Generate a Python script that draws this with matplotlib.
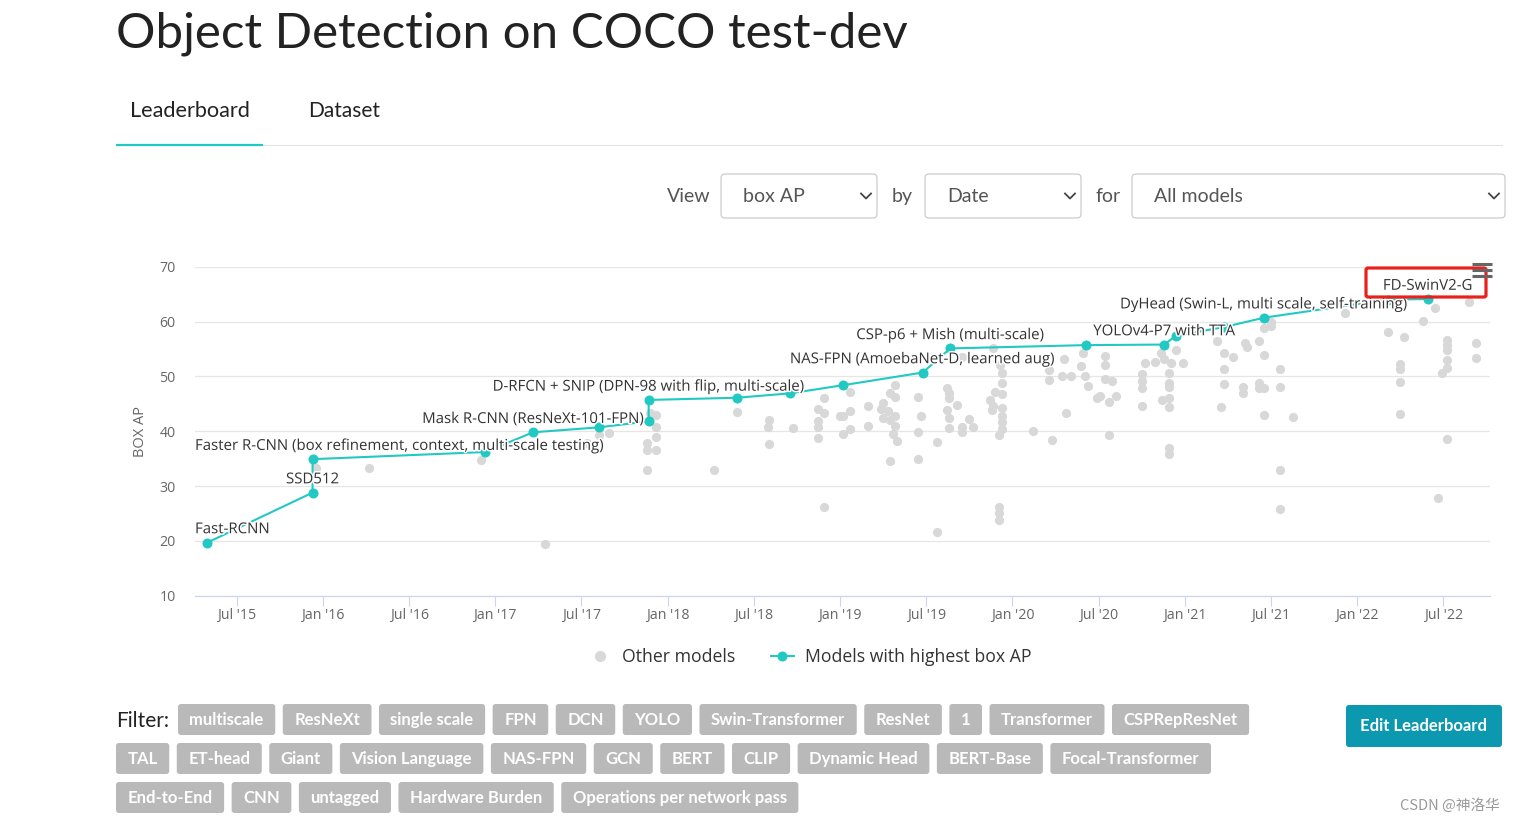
import matplotlib
matplotlib.use('Agg')
import matplotlib.pyplot as plt
from matplotlib.patches import FancyBboxPatch
from matplotlib.lines import Line2D
import matplotlib.patheffects as pe

plt.rcParams['font.family'] = ['Lato', 'DejaVu Sans']
CHART_FONT = ['Open Sans', 'DejaVu Sans']

# --- data: best model per date (decimal year, box AP) ---
best_date = [2015.33, 2015.94, 2015.94, 2016.94, 2017.22, 2017.60, 2017.89, 2017.89,
             2018.40, 2018.71, 2019.02, 2019.48, 2019.64, 2020.43, 2020.88, 2020.95,
             2021.23, 2021.46, 2022.18, 2022.41]
best_ap = [19.7, 28.8, 34.9, 36.2, 39.8, 40.7, 41.8, 45.7,
           46.1, 46.9, 48.4, 50.7, 55.1, 55.7, 55.8, 57.4,
           59.0, 60.7, 64.0, 64.1]
best_name = ['Fast-RCNN', 'SSD512',
             'Faster R-CNN (box refinement, context, multi-scale testing)', '',
             'Mask R-CNN (ResNeXt-101-FPN)', '', '',
             'D-RFCN + SNIP (DPN-98 with flip, multi-scale)', '', '', '',
             'NAS-FPN (AmoebaNet-D, learned aug)', 'CSP-p6 + Mish (multi-scale)', '',
             'YOLOv4-P7 with TTA', '', '',
             'DyHead (Swin-L, multi scale, self-training)', '', 'FD-SwinV2-G']

# --- data: other models ---
other_date = [2015.96, 2016.27, 2016.92, 2017.29, 2017.53, 2017.60, 2017.66, 2017.88,
              2017.88, 2017.93, 2017.93, 2017.93, 2017.93, 2017.90, 2017.88, 2018.27,
              2018.40, 2018.59, 2018.58, 2018.59, 2018.73, 2018.87, 2018.91, 2018.91,
              2018.87, 2018.87, 2018.87, 2018.91, 2019.00,
              2019.06, 2019.06, 2019.02, 2019.06, 2019.02, 2019.16, 2019.16, 2019.32,
              2019.29, 2019.32, 2019.25, 2019.24, 2019.28, 2019.32, 2019.25, 2019.29,
              2019.32, 2019.31, 2019.33, 2019.29, 2019.45, 2019.47, 2019.45, 2019.45,
              2019.56, 2019.56, 2019.62, 2019.63, 2019.63, 2019.68, 2019.62, 2019.63,
              2019.63, 2019.71, 2019.75, 2019.71, 2019.71, 2019.77, 2019.89, 2019.93,
              2019.94, 2019.94, 2019.90, 2019.94, 2019.87, 2019.89, 2019.94, 2019.88,
              2019.94, 2019.94, 2019.94, 2019.92, 2019.92, 2019.92, 2019.92,
              2020.12, 2020.23, 2020.21, 2020.21, 2020.29, 2020.34, 2020.30, 2020.31,
              2020.41, 2020.40, 2020.42, 2020.44, 2020.54, 2020.54, 2020.54, 2020.58,
              2020.49, 2020.51, 2020.56, 2020.60, 2020.56, 2020.75, 2020.75, 2020.75,
              2020.75, 2020.77, 2020.83, 2020.86, 2020.88, 2020.92, 2020.99, 2020.91,
              2020.91, 2020.91, 2020.91, 2020.87, 2020.91, 2020.91, 2020.91, 2020.95,
              2021.19, 2021.23, 2021.28, 2021.23, 2021.23, 2021.21, 2021.35, 2021.36,
              2021.34, 2021.34, 2021.43, 2021.46, 2021.43, 2021.43, 2021.46, 2021.46,
              2021.46, 2021.50, 2021.50, 2021.55, 2021.55, 2021.55, 2021.55, 2021.63,
              2021.93,
              2022.18, 2022.27, 2022.25, 2022.25, 2022.25, 2022.25, 2022.38, 2022.45,
              2022.52, 2022.52, 2022.52, 2022.52, 2022.52, 2022.49, 2022.52, 2022.47,
              2022.65, 2022.69, 2022.69]
other_ap = [33.2, 33.2, 34.7, 19.4, 37.8, 39.3, 39.6, 37.8,
            36.5, 36.6, 38.9, 40.8, 42.9, 43.4, 32.9, 32.9,
            43.5, 42.1, 40.7, 37.7, 40.5, 44.0, 46.0, 43.3,
            41.8, 40.7, 38.8, 26.1, 42.8,
            47.1, 43.7, 42.7, 40.4, 39.5, 44.6, 41.0, 48.4,
            47.0, 46.3, 45.1, 44.0, 43.6, 42.8, 42.4, 42.1,
            41.0, 39.5, 38.2, 34.6, 46.2, 42.8, 39.8, 34.9,
            38.1, 21.6, 47.8, 47.0, 46.0, 44.8, 43.9, 42.4,
            40.5, 53.5, 42.2, 40.7, 39.9, 40.7, 55.1, 52.1,
            50.7, 48.8, 47.2, 46.8, 45.7, 44.6, 44.3, 43.9,
            42.8, 41.6, 40.4, 39.3, 26.2, 25.1, 23.8,
            40.1, 38.4, 51.1, 49.4, 50.1, 50.1, 53.2, 43.4,
            54.2, 51.9, 50.1, 48.3, 53.7, 52.1, 49.5, 49.2,
            46.0, 46.5, 45.3, 46.4, 39.3, 50.5, 49.2, 47.8,
            44.6, 52.4, 52.7, 54.2, 53.1, 52.5, 52.4, 50.7,
            48.8, 48.0, 46.1, 45.6, 44.4, 36.9, 35.9, 54.8,
            56.4, 54.2, 53.5, 51.3, 48.6, 44.4, 56.1, 55.3,
            48.0, 46.9, 56.5, 53.9, 48.8, 47.8, 47.8, 43.0,
            58.8, 60.0, 59.1, 51.3, 48.0, 32.9, 25.9, 42.5,
            61.5,
            58.1, 57.1, 52.2, 51.4, 48.9, 43.2, 60.1, 62.4,
            56.7, 55.7, 54.8, 53.0, 51.5, 50.7, 38.6, 27.9,
            63.5, 56.1, 53.4]

xtick_pos = [2015.5, 2016.0, 2016.5, 2017.0, 2017.5, 2018.0, 2018.5, 2019.0,
             2019.5, 2020.0, 2020.5, 2021.0, 2021.5, 2022.0, 2022.5]
xtick_lab = ["Jul '15", "Jan '16", "Jul '16", "Jan '17", "Jul '17", "Jan '18", "Jul '18",
             "Jan '19", "Jul '19", "Jan '20", "Jul '20", "Jan '21", "Jul '21", "Jan '22",
             "Jul '22"]

tag_rows = [['multiscale', 'ResNeXt', 'single scale', 'FPN', 'DCN', 'YOLO', 'Swin-Transformer',
             'ResNet', '1', 'Transformer', 'CSPRepResNet'],
            ['TAL', 'ET-head', 'Giant', 'Vision Language', 'NAS-FPN', 'GCN', 'BERT', 'CLIP',
             'Dynamic Head', 'BERT-Base', 'Focal-Transformer'],
            ['End-to-End', 'CNN', 'untagged', 'Hardware Burden', 'Operations per network pass']]

TEAL = '#22c9c3'
GRAY = '#d8d8d8'
W, H = 1516, 822

fig = plt.figure(figsize=(W / 100, H / 100), dpi=100)
fig.patch.set_facecolor('white')

# --- chart ---
ax = fig.add_axes([195 / W, (H - 595.7) / H, 1295 / W, 329 / H])
ax.set_facecolor('none')
ax.scatter(other_date, other_ap, s=44, color=GRAY, linewidths=0, zorder=2)
ax.plot(best_date, best_ap, color=TEAL, lw=1.5, marker='o', ms=6.2, zorder=3)

ax.set_xlim(2015.258, 2022.771)
ax.set_ylim(10, 70)
ax.set_yticks(range(10, 71, 10))
ax.set_xticks(xtick_pos)
ax.set_xticklabels(xtick_lab)
ax.grid(axis='y', color='#e6e6e6', lw=0.9)
ax.set_axisbelow(True)
for s in ['top', 'right', 'left']:
    ax.spines[s].set_visible(False)
ax.spines['bottom'].set_color('#ccd6eb')
ax.spines['bottom'].set_linewidth(0.9)
ax.tick_params(axis='y', length=0, pad=14, labelsize=10.2, labelcolor='#666666',
               labelfontfamily='Open Sans')
ax.tick_params(axis='x', length=7.5, width=0.8, color='#ccd6eb', pad=1,
               labelsize=10.2, labelcolor='#666666', labelfontfamily='Open Sans')
ax.set_ylabel('BOX AP', fontsize=10.5, color='#666666', family=CHART_FONT)
ax.yaxis.set_label_coords(-0.036, 0.5)

outline = [pe.withStroke(linewidth=2.2, foreground='white')]
anns = []
for d, v, name in zip(best_date, best_ap, best_name):
    if name:
        a = ax.annotate(name, (d, v), xytext=(0, 9.2), textcoords='offset points',
                        ha='center', va='center', fontsize=10.8, color='#333333',
                        family=CHART_FONT, path_effects=outline, zorder=4)
        anns.append(a)

# keep data labels inside the plot area
renderer = fig.canvas.get_renderer()
ax_bb = ax.get_window_extent(renderer)
for a in anns:
    bb = a.get_window_extent(renderer)
    if bb.x0 < ax_bb.x0:
        a.xyann = ((ax_bb.x0 - bb.x0) * 72 / fig.dpi, 9.2)

legend_handles = [Line2D([], [], ls='none', marker='o', ms=7, color=GRAY),
                  Line2D([], [], color=TEAL, lw=1.5, marker='o', ms=6.2)]
fig.legend(legend_handles, ['Other models', 'Models with highest box AP'],
           loc='center', bbox_to_anchor=(810 / W, 1 - 657 / H), ncol=2, frameon=False,
           prop={'family': CHART_FONT, 'size': 12.7}, labelcolor='#333333',
           handlelength=1.3, handletextpad=0.6, columnspacing=2.0)

# --- page elements in pixel coordinates ---
page = fig.add_axes([0, 0, 1, 1], zorder=5)
page.set_xlim(0, W)
page.set_ylim(H, 0)
page.axis('off')

page.text(116, 48, 'Object Detection on COCO test-dev', fontsize=35.5, color='#222222',
          va='baseline')
page.text(130, 117, 'Leaderboard', fontsize=15.6, color='#222222', va='baseline')
page.text(308, 117, 'Dataset', fontsize=15, color='#222222', va='baseline')
page.plot([116, 263], [145.5, 145.5], color=TEAL, lw=1.6, solid_capstyle='butt')
page.plot([263, 1502], [145.5, 145.5], color='#e3e3e3', lw=0.8)

for label, x in [('View', 667), ('by', 892), ('for', 1095)]:
    page.text(x, 196, label, fontsize=14, color='#555555', va='center')
for x0, x1, txt in [(721, 877, 'box AP'), (925, 1081, 'Date'), (1132, 1505, 'All models')]:
    page.add_patch(FancyBboxPatch((x0, 174), x1 - x0, 44,
                                  boxstyle='round,pad=0,rounding_size=4',
                                  fc='white', ec='#cccccc', lw=0.9))
    page.text(x0 + 22, 196, txt, fontsize=14, color='#555555', va='center')
    page.plot([x1 - 16, x1 - 11, x1 - 6], [193.5, 198.5, 193.5], color='#444444', lw=1.3)

# export menu + highlight box
for yy in (264, 270, 276):
    page.plot([1472, 1492], [yy, yy], color='#666666', lw=2.2, solid_capstyle='butt')
page.add_patch(FancyBboxPatch((1366, 268), 120, 29, boxstyle='round,pad=0,rounding_size=2',
                              fc='none', ec='#e8211d', lw=2.3))

# filter tags
page.text(116, 727, 'Filter:', fontsize=15, color='#222222', va='baseline')
row_y = [704, 743, 782]
row_x = [178, 116, 116]
for names, y0, x in zip(tag_rows, row_y, row_x):
    for name in names:
        t = page.text(x + 11.5, y0 + 15.5, name, fontsize=12, color='white',
                      weight='bold', va='center', zorder=3)
        tw = t.get_window_extent(renderer).width
        page.add_patch(FancyBboxPatch((x, y0), tw + 23, 31,
                                      boxstyle='round,pad=0,rounding_size=3',
                                      fc='#b9b9b9', ec='none', zorder=2))
        x += tw + 23 + 7.5

page.add_patch(FancyBboxPatch((1346, 705), 156, 42, boxstyle='round,pad=0,rounding_size=3',
                              fc='#0c98ae', ec='none'))
page.text(1424, 726, 'Edit Leaderboard', fontsize=12, color='white', weight='bold',
          ha='center', va='center')

page.text(1500, 806, 'CSDN @神洛华', fontsize=10.5, color='#9a9a9a', ha='right', va='center',
          family=['Noto Sans CJK SC', 'DejaVu Sans'])

fig.savefig('out.png', dpi=100)
